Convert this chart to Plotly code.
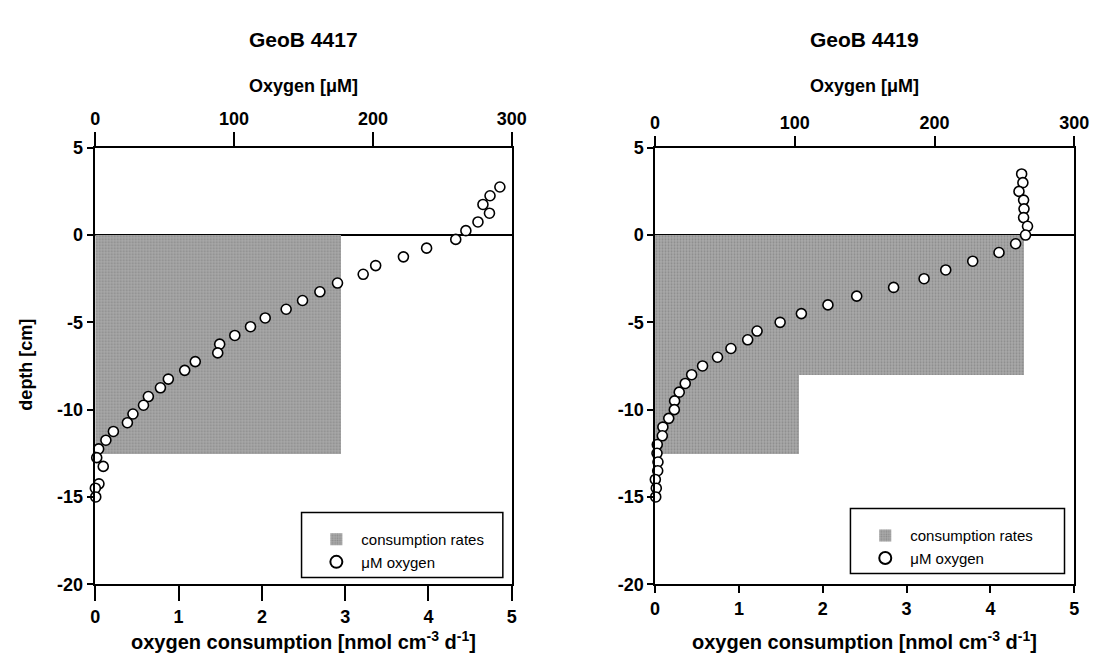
import plotly.graph_objects as go

# ---------------- data ----------------
# GeoB 4417
depth_4417 = [2.75, 2.25, 1.75, 1.25, 0.75, 0.25, -0.25, -0.75, -1.25, -1.75, -2.25, -2.75,
              -3.25, -3.75, -4.25, -4.75, -5.25, -5.75, -6.25, -6.75, -7.25, -7.75, -8.25,
              -8.75, -9.25, -9.75, -10.25, -10.75, -11.25, -11.75, -12.25, -12.75, -13.25,
              -14.25, -14.5, -15.0]
oxygen_4417 = [291.5, 284.4, 279.3, 284.0, 275.7, 267.0, 259.7, 238.7, 222.0, 202.0, 193.0, 174.5,
               161.8, 149.3, 137.5, 122.4, 111.8, 100.5, 89.6, 88.2, 72.0, 64.4, 52.6,
               46.9, 38.2, 34.7, 27.1, 23.1, 13.0, 7.6, 2.4, 1.0, 5.7,
               2.6, 0.0, 0.3]
rate_top_4417 = [0.0]
rate_bottom_4417 = [-12.5]
rate_4417 = [2.95]

# GeoB 4419
depth_4419 = [3.5, 3.0, 2.5, 2.0, 1.5, 1.0, 0.5, 0.0, -0.5, -1.0, -1.5, -2.0, -2.5, -3.0,
              -3.5, -4.0, -4.5, -5.0, -5.5, -6.0, -6.5, -7.0, -7.5, -8.0, -8.5, -9.0,
              -9.5, -10.0, -10.5, -11.0, -11.5, -12.0, -12.5, -13.0, -13.5, -14.0,
              -14.5, -15.0]
oxygen_4419 = [262.3, 263.2, 260.4, 263.7, 264.0, 263.7, 266.5, 265.1, 258.0, 246.1, 227.3, 208.0,
               192.5, 170.7, 144.3, 123.7, 104.7, 89.5, 73.0, 66.3, 54.3, 44.7, 34.0, 26.2,
               21.6, 17.3, 14.0, 13.8, 9.8, 5.6, 5.2, 1.6, 1.4, 2.1, 1.9, 0.2,
               0.9, 0.5]
rate_top_4419 = [0.0, -8.0]
rate_bottom_4419 = [-8.0, -12.5]
rate_4419 = [4.4, 1.72]

titles = ["GeoB 4417", "GeoB 4419"]
depth_ticks = [5, 0, -5, -10, -15, -20]
rate_ticks = [0, 1, 2, 3, 4, 5]
oxygen_ticks = [0, 100, 200, 300]

# ---------------- layout helpers ----------------
W, H = 1107, 666
FONT = "Liberation Sans, Arial, sans-serif"


def px_x(p):
    return p / W


def px_y(p):
    return 1 - p / H


dom_left = [px_x(92), px_x(516)]
dom_right = [px_x(662), px_x(1089)]
dom_y = [px_y(592), px_y(142)]

shade = dict(color="#a9a9a9",
             pattern=dict(shape=".", fgcolor="#6a6a6a", size=3, solidity=0.35, fillmode="overlay"),
             line=dict(width=0))
circ = dict(symbol="circle", size=10, color="white", line=dict(color="black", width=1.6))

fig = go.Figure()

# left panel
fig.add_trace(go.Bar(
    y=[(t + b) / 2 for t, b in zip(rate_top_4417, rate_bottom_4417)],
    x=rate_4417,
    width=[t - b for t, b in zip(rate_top_4417, rate_bottom_4417)],
    orientation="h", marker=shade, name="consumption rates",
    xaxis="x", yaxis="y", legend="legend"))
fig.add_trace(go.Scatter(
    x=oxygen_4417, y=depth_4417, mode="markers", marker=circ, name="μM oxygen",
    xaxis="x2", yaxis="y", legend="legend", cliponaxis=False))

# right panel
fig.add_trace(go.Bar(
    y=[(t + b) / 2 for t, b in zip(rate_top_4419, rate_bottom_4419)],
    x=rate_4419,
    width=[t - b for t, b in zip(rate_top_4419, rate_bottom_4419)],
    orientation="h", marker=shade, name="consumption rates",
    xaxis="x3", yaxis="y2", legend="legend2"))
fig.add_trace(go.Scatter(
    x=oxygen_4419, y=depth_4419, mode="markers", marker=circ, name="μM oxygen",
    xaxis="x4", yaxis="y2", legend="legend2", cliponaxis=False))

tickfont = dict(family=FONT, size=18, color="black", weight="bold")
common_axis = dict(showgrid=False, showline=True, linecolor="black", linewidth=1.5,
                   ticks="outside", tickcolor="black", tickwidth=1.5, tickfont=tickfont,
                   zeroline=False, fixedrange=True)

bottom_ax = dict(common_axis, range=[0, 5], tickvals=rate_ticks,
                 ticktext=[str(v) for v in rate_ticks], side="bottom")
top_ax = dict(common_axis, range=[0, 300], tickvals=oxygen_ticks,
              ticktext=[str(v) for v in oxygen_ticks], side="top")
y_ax = dict(common_axis, range=[-20, 5], tickvals=depth_ticks,
            ticktext=[str(v) for v in depth_ticks], domain=dom_y,
            mirror=True, zeroline=True, zerolinecolor="black", zerolinewidth=2)

legend_common = dict(xanchor="left", yanchor="top", bgcolor="rgba(0,0,0,0)", borderwidth=0,
                     font=dict(family=FONT, size=15, color="black"),
                     itemsizing="constant", itemwidth=40, tracegroupgap=0)

fig.update_layout(
    width=W, height=H, autosize=False,
    margin=dict(l=0, r=0, t=0, b=0),
    paper_bgcolor="white", plot_bgcolor="white",
    barmode="overlay", bargap=0,
    font=dict(family=FONT, color="black"),
    xaxis=dict(bottom_ax, domain=dom_left, anchor="y", ticklen=15),
    xaxis2=dict(top_ax, overlaying="x", anchor="y", ticklen=14),
    yaxis=dict(y_ax, anchor="x", ticklen=7),
    xaxis3=dict(bottom_ax, domain=dom_right, anchor="y2", ticklen=7),
    xaxis4=dict(top_ax, overlaying="x3", anchor="y2", ticklen=10),
    yaxis2=dict(y_ax, anchor="x3", ticklen=6),
    legend=dict(legend_common, x=px_x(312), y=px_y(529)),
    legend2=dict(legend_common, x=px_x(871), y=px_y(525)),
    showlegend=True,
)

# legend frames (paper coordinates)
shapes = [
    dict(type="rect", xref="paper", yref="paper", x0=px_x(302), x1=px_x(507),
         y0=px_y(585), y1=px_y(518), line=dict(color="black", width=1.5),
         fillcolor="rgba(0,0,0,0)", layer="above"),
    dict(type="rect", xref="paper", yref="paper", x0=px_x(861), x1=px_x(1079),
         y0=px_y(581), y1=px_y(514), line=dict(color="black", width=1.5),
         fillcolor="rgba(0,0,0,0)", layer="above"),
]

annos = []
for title, dom in zip(titles, [dom_left, dom_right]):
    cx = (dom[0] + dom[1]) / 2
    annos.append(dict(text=f"<b>{title}</b>", x=cx, y=px_y(30), xref="paper", yref="paper",
                      xanchor="center", yanchor="middle", showarrow=False,
                      font=dict(family=FONT, size=21, color="black")))
    annos.append(dict(text="<b>Oxygen [μM]</b>", x=cx, y=px_y(78), xref="paper", yref="paper",
                      xanchor="center", yanchor="middle", showarrow=False,
                      font=dict(family=FONT, size=18, color="black")))
    annos.append(dict(text="<b>oxygen consumption [nmol cm<sup>-3</sup> d<sup>-1</sup>]</b>",
                      x=cx, y=px_y(650), xref="paper", yref="paper",
                      xanchor="center", yanchor="middle", showarrow=False,
                      font=dict(family=FONT, size=20, color="black")))
annos.append(dict(text="<b>depth [cm]</b>", x=px_x(21), y=px_y(366), xref="paper", yref="paper",
                  xanchor="center", yanchor="middle", showarrow=False, textangle=-90,
                  font=dict(family=FONT, size=18, color="black")))
fig.update_layout(annotations=annos, shapes=shapes)

fig.write_html("out.html")
